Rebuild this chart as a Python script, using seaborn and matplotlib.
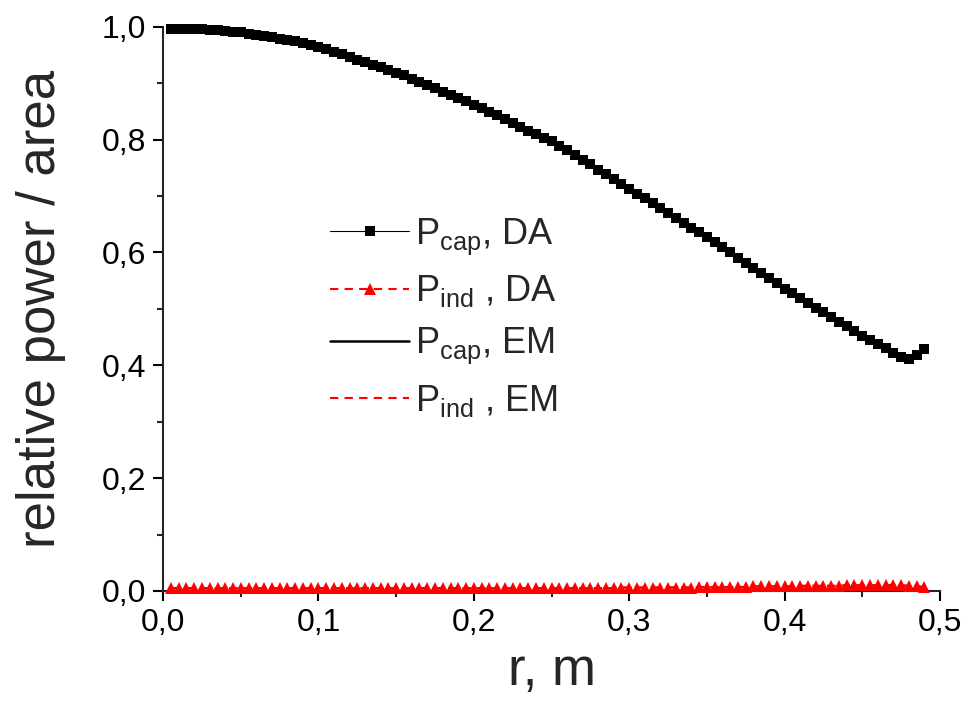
import numpy as np
import pandas as pd
import matplotlib
matplotlib.use("Agg")
import matplotlib.pyplot as plt
import seaborn as sns
from matplotlib.ticker import MultipleLocator, FuncFormatter

# radius grid (m) and relative power per area
r = [0.005, 0.010, 0.015, 0.020, 0.025, 0.030, 0.035, 0.040, 0.045, 0.050,
     0.055, 0.060, 0.065, 0.070, 0.075, 0.080, 0.085, 0.090, 0.095, 0.100,
     0.105, 0.110, 0.115, 0.120, 0.125, 0.130, 0.135, 0.140, 0.145, 0.150,
     0.155, 0.160, 0.165, 0.170, 0.175, 0.180, 0.185, 0.190, 0.195, 0.200,
     0.205, 0.210, 0.215, 0.220, 0.225, 0.230, 0.235, 0.240, 0.245, 0.250,
     0.255, 0.260, 0.265, 0.270, 0.275, 0.280, 0.285, 0.290, 0.295, 0.300,
     0.305, 0.310, 0.315, 0.320, 0.325, 0.330, 0.335, 0.340, 0.345, 0.350,
     0.355, 0.360, 0.365, 0.370, 0.375, 0.380, 0.385, 0.390, 0.395, 0.400,
     0.405, 0.410, 0.415, 0.420, 0.425, 0.430, 0.435, 0.440, 0.445, 0.450,
     0.455, 0.460, 0.465, 0.470, 0.475, 0.480, 0.485, 0.490]

p_cap = [0.997, 0.997, 0.997, 0.996, 0.996, 0.995, 0.994, 0.993, 0.991, 0.990,
         0.988, 0.986, 0.984, 0.982, 0.979, 0.977, 0.974, 0.971, 0.967, 0.964,
         0.960, 0.955, 0.951, 0.946, 0.942, 0.937, 0.933, 0.928, 0.924, 0.919,
         0.914, 0.908, 0.902, 0.897, 0.891, 0.885, 0.879, 0.874, 0.868, 0.862,
         0.856, 0.849, 0.843, 0.836, 0.830, 0.823, 0.816, 0.810, 0.803, 0.797,
         0.789, 0.781, 0.773, 0.764, 0.756, 0.747, 0.739, 0.730, 0.722, 0.713,
         0.704, 0.696, 0.687, 0.679, 0.670, 0.661, 0.653, 0.644, 0.636, 0.627,
         0.618, 0.609, 0.600, 0.591, 0.582, 0.572, 0.563, 0.554, 0.545, 0.536,
         0.528, 0.519, 0.511, 0.502, 0.494, 0.486, 0.477, 0.469, 0.460, 0.452,
         0.445, 0.438, 0.431, 0.422, 0.415, 0.412, 0.418, 0.429]

p_ind = [0.005, 0.005, 0.005, 0.005, 0.005, 0.005, 0.005, 0.005, 0.005, 0.005,
         0.005, 0.005, 0.005, 0.005, 0.005, 0.005, 0.005, 0.005, 0.005, 0.005,
         0.005, 0.005, 0.005, 0.005, 0.005, 0.005, 0.005, 0.005, 0.005, 0.005,
         0.005, 0.005, 0.005, 0.005, 0.005, 0.005, 0.005, 0.005, 0.005, 0.005,
         0.005, 0.005, 0.005, 0.005, 0.005, 0.005, 0.005, 0.005, 0.005, 0.005,
         0.005, 0.005, 0.005, 0.005, 0.005, 0.005, 0.005, 0.005, 0.006, 0.006,
         0.006, 0.006, 0.006, 0.006, 0.006, 0.006, 0.006, 0.006, 0.007, 0.007,
         0.007, 0.007, 0.007, 0.007, 0.007, 0.008, 0.008, 0.008, 0.008, 0.008,
         0.008, 0.009, 0.009, 0.009, 0.009, 0.009, 0.009, 0.010, 0.010, 0.010,
         0.010, 0.010, 0.010, 0.010, 0.010, 0.009, 0.008, 0.007]

labels = [r"P$_{\mathrm{cap}}$, DA", r"P$_{\mathrm{ind}}$ , DA",
          r"P$_{\mathrm{cap}}$, EM", r"P$_{\mathrm{ind}}$ , EM"]

df = pd.DataFrame({"r": r, "cap": p_cap, "ind": p_ind})

sns.set_style("ticks")
plt.rcParams["font.family"] = ["Liberation Sans", "DejaVu Sans"]
plt.rcParams["mathtext.fontset"] = "custom"
plt.rcParams["mathtext.rm"] = "Liberation Sans"
plt.rcParams["mathtext.it"] = "Liberation Sans:italic"

fig = plt.figure(figsize=(9.71, 7.06), dpi=100)
ax = fig.add_axes([0.168, 0.163, 0.800, 0.799])

# DA: markers, EM: plain lines (lying under the markers)
sns.lineplot(data=df, x="r", y="cap", ax=ax, color="black", linewidth=0.8,
             marker="s", markersize=7, markeredgewidth=0, label=labels[0],
             zorder=4, clip_on=False)
sns.lineplot(data=df, x="r", y="ind", ax=ax, color="red", linewidth=1.5,
             linestyle=(0, (4, 3)), marker="^", markersize=8.5,
             markeredgewidth=0, label=labels[1], zorder=4, clip_on=False)
sns.lineplot(data=df, x="r", y="cap", ax=ax, color="black", linewidth=1.8,
             label=labels[2], zorder=3, clip_on=False)
sns.lineplot(data=df, x="r", y="ind", ax=ax, color="red", linewidth=1.5,
             linestyle=(0, (4, 3)), label=labels[3], zorder=3, clip_on=False)

ax.set_xlim(0, 0.5)
ax.set_ylim(0, 1.0)
ax.xaxis.set_major_locator(MultipleLocator(0.1))
ax.xaxis.set_minor_locator(MultipleLocator(0.05))
ax.yaxis.set_major_locator(MultipleLocator(0.2))
ax.yaxis.set_minor_locator(MultipleLocator(0.1))
comma = FuncFormatter(lambda v, p: f"{v:.1f}".replace(".", ","))
ax.xaxis.set_major_formatter(comma)
ax.yaxis.set_major_formatter(comma)

sns.despine(ax=ax)
for side in ["left", "bottom"]:
    ax.spines[side].set_linewidth(1.5)
ax.tick_params(which="major", direction="out", length=7, width=1.5,
               labelsize=23, colors="black", pad=5)
ax.tick_params(which="minor", direction="out", length=4, width=1.5)

ax.set_xlabel("r, m", fontsize=38, labelpad=6)
ax.set_ylabel("relative power / area", fontsize=38, labelpad=26)

leg = ax.legend(loc="upper left", bbox_to_anchor=(0.196, 0.69), frameon=False,
                fontsize=26, handlelength=2.2, handletextpad=0.15,
                labelspacing=0.46, borderaxespad=0)

fig.savefig("out.png", dpi=100)
